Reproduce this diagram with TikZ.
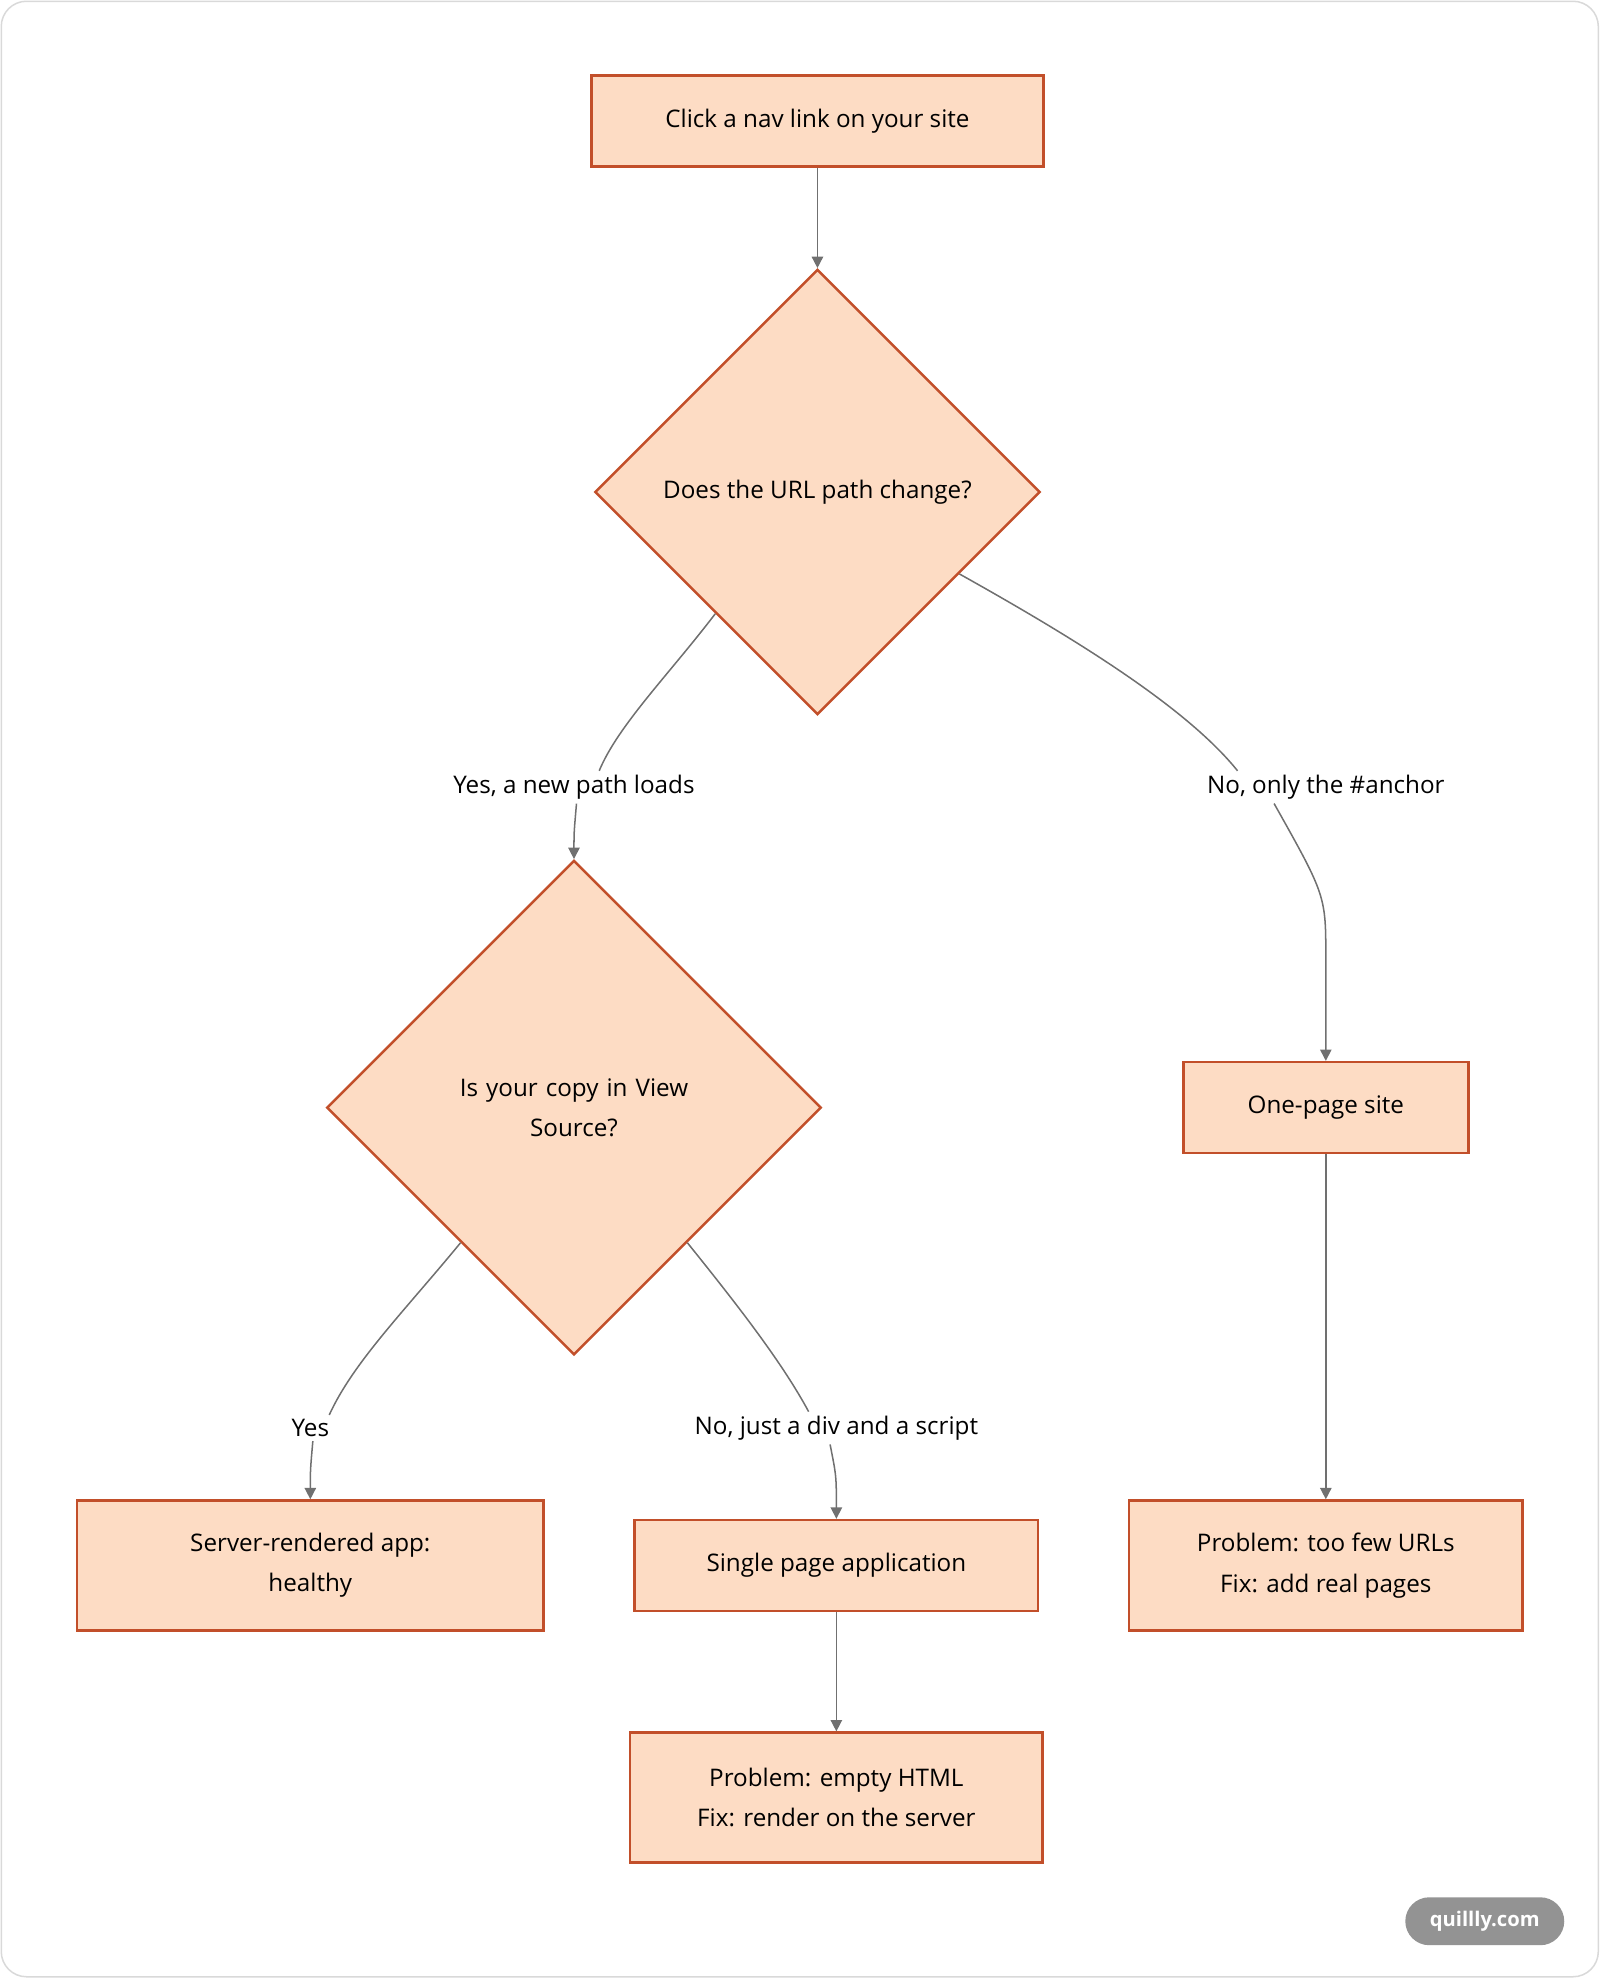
\documentclass[tikz,border=0pt]{standalone}
\usepackage{fontspec}
\setmainfont{Open Sans}
\usetikzlibrary{shapes.geometric,arrows.meta,calc}
\definecolor{boxfill}{HTML}{FDDCC4}
\definecolor{boxline}{HTML}{C24F2A}
\definecolor{edgegray}{HTML}{707070}
\tikzset{
  box/.style={draw=boxline,fill=boxfill,line width=1pt,align=center,inner sep=0pt,font=\fontsize{9.6}{16}\selectfont},
  dec/.style={diamond,draw=boxline,fill=boxfill,line width=1pt,align=center,inner sep=0pt,aspect=1,font=\fontsize{9.6}{16}\selectfont},
  lab/.style={fill=white,inner sep=1.5pt,font=\fontsize{9.6}{16}\selectfont},
  edge/.style={draw=edgegray,line width=0.6pt},
  arr/.style={edge,-{Triangle[length=4.5pt,width=4.5pt]}}
}
\begin{document}
\begin{tikzpicture}[x=0.5pt,y=-0.5pt]
\useasboundingbox (0,0) rectangle (1268,1568);
\draw[gray!30,line width=0.6pt,rounded corners=10pt] (1,1) rectangle (1267,1567);

% nodes
\node[box,minimum width=179pt,minimum height=36pt] (click) at (648,96) {Click a nav link on your site};
\node[dec,minimum width=176.5pt,minimum height=176.5pt] (url) at (648,390) {Does the URL path change?};
\node[dec,minimum width=196pt,minimum height=196pt,text width=110pt] (copy) at (455,878) {Is your copy in View\\Source?};
\node[box,minimum width=113pt,minimum height=36pt] (onepage) at (1051,878) {One-page site};
\node[box,minimum width=185pt,minimum height=51.5pt] (server) at (246,1241) {Server-rendered app:\\healthy};
\node[box,minimum width=160pt,minimum height=36pt] (spa) at (663,1241) {Single page application};
\node[box,minimum width=163.5pt,minimum height=51.5pt] (empty) at (663,1425) {Problem: empty HTML\\Fix: render on the server};
\node[box,minimum width=156pt,minimum height=51.5pt] (fewurls) at (1051,1241) {Problem: too few URLs\\Fix: add real pages};

% labels
\node[lab] (lyes1) at (455,624) {Yes, a new path loads};
\node[lab] (lno1) at (1051,624) {No, only the \#anchor};
\node[lab] (lyes2) at (246,1132) {Yes};
\node[lab] (lno2) at (663,1132) {No, just a div and a script};

% connectors
\draw[arr] (click) -- (url.north);
\draw[edge] (url.230) .. controls (530,535) and (490,575) .. ($(lyes1.north)+(20,0)$);
\draw[arr] ($(lyes1.south)+(2,0)$) .. controls (455,660) .. (copy.north);
\draw[edge] (url.330) .. controls (850,505) and (940,560) .. ($(lno1.north)+(-70,0)$);
\draw[arr] ($(lno1.south)+(-41,0)$) .. controls (1051,710) .. (1051,760) -- (onepage.north);
\draw[arr] (onepage) -- (fewurls);
\draw[edge] (copy.230) .. controls (320,1040) and (280,1080) .. ($(lyes2.north)+(15,0)$);
\draw[arr] ($(lyes2.south)+(2,0)$) .. controls (246,1165) .. (server.north);
\draw[edge] (copy.310) .. controls (585,1035) and (620,1080) .. ($(lno2.north)+(-22,0)$);
\draw[arr] ($(lno2.south)+(-5,0)$) .. controls (663,1170) .. (spa.north);
\draw[arr] (spa) -- (empty);

% watermark
\node[fill=gray!85,text=white,rounded corners=9.5pt,minimum width=63pt,minimum height=19pt,inner sep=0pt,font=\fontsize{8}{10}\selectfont\bfseries] (mark) at (1177,1523) {quillly.com};
\end{tikzpicture}
\end{document}
